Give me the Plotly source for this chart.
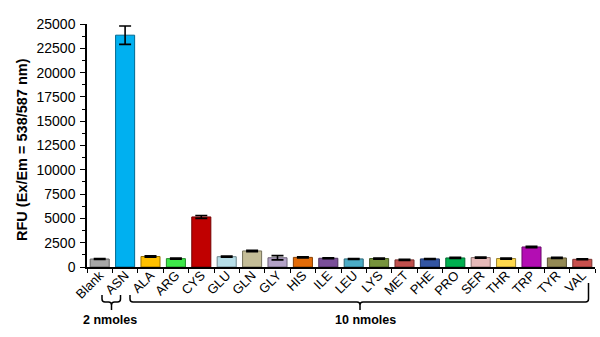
import plotly.graph_objects as go

# Amino acid selectivity screen: fluorescence response per analyte
categories = ["Blank", "ASN", "ALA", "ARG", "CYS", "GLU", "GLN", "GLY", "HIS", "ILE",
              "LEU", "LYS", "MET", "PHE", "PRO", "SER", "THR", "TRP", "TYR", "VAL"]
rfu = [820, 23850, 1080, 860, 5150, 1060, 1650, 950, 990, 900,
       830, 870, 730, 830, 930, 970, 870, 2060, 930, 790]
rfu_err = [50, 950, 70, 60, 150, 60, 70, 220, 50, 50,
           50, 60, 50, 50, 60, 60, 60, 80, 60, 50]
bar_colors = ["#a6a6a6", "#00b0f0", "#ffc000", "#3ee84a", "#c00000", "#b7dee8", "#c4bd97",
              "#b3a2c7", "#e36c09", "#7a4f9a", "#4bacc6", "#77933c", "#c0504d", "#3355a3",
              "#00b050", "#e6b9b8", "#ffd94d", "#b30db3", "#948a54", "#c9504d"]
y_ticks = [0, 2500, 5000, 7500, 10000, 12500, 15000, 17500, 20000, 22500, 25000]
y_tick_labels = [str(v) for v in y_ticks]


def darker(hex_color, f=0.6):
    h = hex_color.lstrip("#")
    r, g, b = (int(h[i:i + 2], 16) for i in (0, 2, 4))
    return "rgb(%d,%d,%d)" % (r * f, g * f, b * f)


W, H = 600, 337
L, R, T, B = 87, 5, 24, 70
PW, PH = W - L - R, H - T - B


def px(x):
    return (x - L) / PW


def py(y):
    return (H - B - y) / PH


fig = go.Figure(go.Bar(
    x=categories, y=rfu,
    marker=dict(color=bar_colors, line=dict(color=[darker(c) for c in bar_colors], width=1)),
    error_y=dict(type="data", array=rfu_err, visible=True, color="black", thickness=1.6, width=6),
    width=0.75,
))


def brace(x0, x1, xm, ytop0, ytop1, ybar, ybot, r=3):
    pts = [
        f"M {px(x0)},{py(ytop0)}", f"L {px(x0)},{py(ybar - r)}",
        f"Q {px(x0)},{py(ybar)} {px(x0 + r)},{py(ybar)}", f"L {px(xm - r)},{py(ybar)}",
        f"Q {px(xm)},{py(ybar)} {px(xm)},{py(ybar + r)}", f"L {px(xm)},{py(ybot)}",
        f"M {px(xm)},{py(ybar + r)}", f"Q {px(xm)},{py(ybar)} {px(xm + r)},{py(ybar)}",
        f"L {px(x1 - r)},{py(ybar)}", f"Q {px(x1)},{py(ybar)} {px(x1)},{py(ybar - r)}",
        f"L {px(x1)},{py(ytop1)}",
    ]
    return dict(type="path", xref="paper", yref="paper", path=" ".join(pts),
                line=dict(color="black", width=1.5))


fig.add_shape(brace(102, 120.5, 111.5, 295, 295, 302, 310))
fig.add_shape(brace(130, 588.5, 360, 295, 283, 302, 310))

for label, xc in [("2 nmoles", 110), ("10 nmoles", 365)]:
    fig.add_annotation(x=px(xc), y=py(320), xref="paper", yref="paper", text=label,
                       showarrow=False, xanchor="center", yanchor="middle",
                       font=dict(family="Arial, Liberation Sans", size=12.5, color="black", weight="bold"))

fig.add_annotation(x=px(22), y=py(150), xref="paper", yref="paper",
                   text="RFU (Ex/Em = 538/587 nm)", textangle=-90, showarrow=False,
                   xanchor="center", yanchor="middle",
                   font=dict(family="Arial, Liberation Sans", size=14.5, color="black", weight="bold"))

fig.update_layout(
    width=W, height=H,
    margin=dict(l=L, r=R, t=T, b=B),
    paper_bgcolor="white", plot_bgcolor="white",
    showlegend=False,
    font=dict(family="Arial, Liberation Sans", color="black"),
    xaxis=dict(
        type="category", range=[-0.5, 19.5], tickangle=-45, tickfont=dict(size=13),
        showline=True, linecolor="black", linewidth=1.5,
        ticks="outside", tickson="boundaries", ticklen=4, tickcolor="black", tickwidth=1.3,
        ticklabelstandoff=-6,
        showgrid=False,
    ),
    yaxis=dict(
        range=[0, 25000], tickvals=y_ticks, ticktext=y_tick_labels, tickfont=dict(size=14),
        showline=True, linecolor="black", linewidth=1.5,
        ticks="outside", ticklen=5, tickcolor="black", tickwidth=1.3, ticklabelstandoff=2,
        minor=dict(dtick=1250, ticks="outside", ticklen=3, tickcolor="black", tickwidth=1.2),
        showgrid=False, zeroline=False,
    ),
)

fig.write_html("out.html")
